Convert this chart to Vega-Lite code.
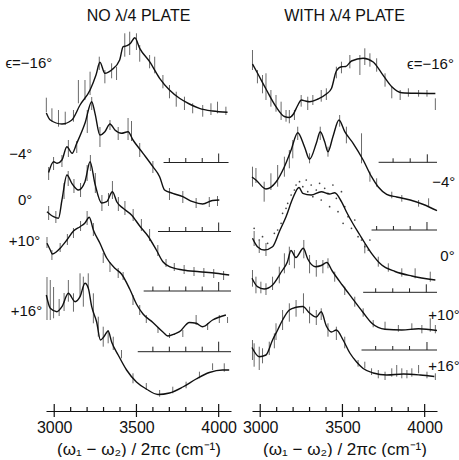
{
"$schema": "https://vega.github.io/schema/vega-lite/v6.json",
"background": "white",
"padding": {"left": 5, "top": 8, "right": 0, "bottom": 0},
"spacing": 21,
"bounds": "flush",
"config": {
  "view": {"stroke": null},
  "font": "Liberation Sans",
  "title": {"font": "Liberation Sans", "fontSize": 16, "fontWeight": "normal", "color": "#111", "offset": 2},
  "axisX": {"domainColor": "#111", "domainWidth": 1.2, "ticks": false, "grid": false, "labelFontSize": 16, "labelColor": "#111", "labelPadding": 8, "labelFlush": false, "titleFontSize": 17, "titleFontWeight": "normal", "titleColor": "#111", "titlePadding": 6, "labelFont": "Liberation Sans", "titleFont": "Liberation Sans"}
},
"datasets": {
  "curves": [
    {"c":"L1","x":2952,"y":298},{"c":"L1","x":2976,"y":291},{"c":"L1","x":3047,"y":287},{"c":"L1","x":3107,"y":291},{"c":"L1","x":3157,"y":306},{"c":"L1","x":3218,"y":321},{"c":"L1","x":3254,"y":336},{"c":"L1","x":3278,"y":348.7},{"c":"L1","x":3308,"y":337.7},{"c":"L1","x":3349,"y":341},{"c":"L1","x":3398,"y":351},{"c":"L1","x":3419,"y":364.3},{"c":"L1","x":3443,"y":365.3},{"c":"L1","x":3464,"y":367.7},{"c":"L1","x":3490,"y":373.3},{"c":"L1","x":3520,"y":362.7},{"c":"L1","x":3580,"y":349.3},{"c":"L1","x":3641,"y":332.7},{"c":"L1","x":3701,"y":321},{"c":"L1","x":3762,"y":312.7},{"c":"L1","x":3822,"y":307},{"c":"L1","x":3883,"y":302.7},{"c":"L1","x":3963,"y":300},{"c":"L1","x":4054,"y":298.7},
    {"c":"L2","x":2966,"y":238.5},{"c":"L2","x":2996,"y":249.3},{"c":"L2","x":3018,"y":247.7},{"c":"L2","x":3047,"y":251},{"c":"L2","x":3077,"y":264.3},{"c":"L2","x":3109,"y":257.7},{"c":"L2","x":3137,"y":267.7},{"c":"L2","x":3187,"y":287.7},{"c":"L2","x":3228,"y":309.3},{"c":"L2","x":3248,"y":297.7},{"c":"L2","x":3278,"y":276},{"c":"L2","x":3308,"y":279.3},{"c":"L2","x":3339,"y":287},{"c":"L2","x":3369,"y":281},{"c":"L2","x":3409,"y":277.7},{"c":"L2","x":3449,"y":279.3},{"c":"L2","x":3479,"y":271},{"c":"L2","x":3540,"y":257.7},{"c":"L2","x":3600,"y":244.3},{"c":"L2","x":3641,"y":234.3},{"c":"L2","x":3671,"y":221},{"c":"L2","x":3721,"y":217.7},{"c":"L2","x":3782,"y":214.3},{"c":"L2","x":3842,"y":209.3},{"c":"L2","x":3903,"y":207},{"c":"L2","x":3963,"y":210.5},{"c":"L2","x":4004,"y":211},
    {"c":"L3","x":2956,"y":199.3},{"c":"L3","x":2996,"y":194.3},{"c":"L3","x":3026,"y":192.7},{"c":"L3","x":3047,"y":211},{"c":"L3","x":3077,"y":236},{"c":"L3","x":3107,"y":227.7},{"c":"L3","x":3147,"y":221},{"c":"L3","x":3187,"y":229.3},{"c":"L3","x":3218,"y":249.3},{"c":"L3","x":3248,"y":227},{"c":"L3","x":3288,"y":208},{"c":"L3","x":3319,"y":209.3},{"c":"L3","x":3354,"y":219.3},{"c":"L3","x":3381,"y":209},{"c":"L3","x":3419,"y":202.7},{"c":"L3","x":3470,"y":196},{"c":"L3","x":3520,"y":185},{"c":"L3","x":3570,"y":175},{"c":"L3","x":3621,"y":161},{"c":"L3","x":3661,"y":149.3},{"c":"L3","x":3701,"y":144.3},{"c":"L3","x":3782,"y":141},{"c":"L3","x":3883,"y":139.3},{"c":"L3","x":3984,"y":137.7},{"c":"L3","x":4064,"y":136},
    {"c":"L4","x":2956,"y":167.7},{"c":"L4","x":2976,"y":161},{"c":"L4","x":2988,"y":157},{"c":"L4","x":3012,"y":159},{"c":"L4","x":3036,"y":162.7},{"c":"L4","x":3077,"y":171},{"c":"L4","x":3117,"y":180},{"c":"L4","x":3157,"y":184.3},{"c":"L4","x":3187,"y":188},{"c":"L4","x":3213,"y":193.7},{"c":"L4","x":3238,"y":181},{"c":"L4","x":3278,"y":167.7},{"c":"L4","x":3319,"y":153},{"c":"L4","x":3369,"y":142.7},{"c":"L4","x":3409,"y":137},{"c":"L4","x":3459,"y":122},{"c":"L4","x":3500,"y":107},{"c":"L4","x":3540,"y":97},{"c":"L4","x":3600,"y":88.5},{"c":"L4","x":3661,"y":79},{"c":"L4","x":3691,"y":75},{"c":"L4","x":3732,"y":77},{"c":"L4","x":3762,"y":79.3},{"c":"L4","x":3822,"y":88.5},{"c":"L4","x":3863,"y":87.7},{"c":"L4","x":3903,"y":84.3},{"c":"L4","x":3963,"y":91},{"c":"L4","x":4044,"y":96},
    {"c":"L5","x":2952,"y":116},{"c":"L5","x":2976,"y":102.7},{"c":"L5","x":3016,"y":99.3},{"c":"L5","x":3047,"y":104.3},{"c":"L5","x":3086,"y":117.7},{"c":"L5","x":3127,"y":109.3},{"c":"L5","x":3157,"y":114.3},{"c":"L5","x":3187,"y":127.7},{"c":"L5","x":3207,"y":123},{"c":"L5","x":3228,"y":104.3},{"c":"L5","x":3258,"y":89},{"c":"L5","x":3281,"y":71},{"c":"L5","x":3302,"y":74.3},{"c":"L5","x":3328,"y":80},{"c":"L5","x":3349,"y":69},{"c":"L5","x":3389,"y":56},{"c":"L5","x":3440,"y":41},{"c":"L5","x":3500,"y":29},{"c":"L5","x":3560,"y":22},{"c":"L5","x":3631,"y":16.5},{"c":"L5","x":3701,"y":18},{"c":"L5","x":3782,"y":24},{"c":"L5","x":3863,"y":32},{"c":"L5","x":3943,"y":38.5},{"c":"L5","x":4024,"y":41},{"c":"L5","x":4064,"y":41},
    {"c":"R1","x":2953,"y":347},{"c":"R1","x":2983,"y":338},{"c":"R1","x":3035,"y":322},{"c":"R1","x":3096,"y":304.3},{"c":"R1","x":3147,"y":294.5},{"c":"R1","x":3177,"y":293.5},{"c":"R1","x":3202,"y":297},{"c":"R1","x":3226,"y":305},{"c":"R1","x":3251,"y":311},{"c":"R1","x":3275,"y":310},{"c":"R1","x":3300,"y":309.3},{"c":"R1","x":3351,"y":312},{"c":"R1","x":3402,"y":317},{"c":"R1","x":3433,"y":322.5},{"c":"R1","x":3463,"y":340},{"c":"R1","x":3494,"y":344.3},{"c":"R1","x":3520,"y":344.5},{"c":"R1","x":3555,"y":350},{"c":"R1","x":3626,"y":352.7},{"c":"R1","x":3687,"y":349},{"c":"R1","x":3739,"y":337.7},{"c":"R1","x":3800,"y":324.3},{"c":"R1","x":3861,"y":318.3},{"c":"R1","x":3942,"y":317.7},{"c":"R1","x":4065,"y":317.5},
    {"c":"R2","x":2950,"y":234},{"c":"R2","x":2974,"y":231},{"c":"R2","x":3035,"y":222},{"c":"R2","x":3096,"y":229},{"c":"R2","x":3147,"y":244.3},{"c":"R2","x":3188,"y":261},{"c":"R2","x":3228,"y":278.3},{"c":"R2","x":3269,"y":264.3},{"c":"R2","x":3300,"y":251.7},{"c":"R2","x":3341,"y":267.7},{"c":"R2","x":3365,"y":279.3},{"c":"R2","x":3392,"y":269.3},{"c":"R2","x":3412,"y":259.3},{"c":"R2","x":3442,"y":274.3},{"c":"R2","x":3479,"y":291},{"c":"R2","x":3514,"y":279.3},{"c":"R2","x":3565,"y":267.7},{"c":"R2","x":3626,"y":251},{"c":"R2","x":3677,"y":234.3},{"c":"R2","x":3718,"y":224},{"c":"R2","x":3769,"y":216.7},{"c":"R2","x":3830,"y":214},{"c":"R2","x":3912,"y":211},{"c":"R2","x":3993,"y":206.5},{"c":"R2","x":4075,"y":200.3},
    {"c":"R3","x":2953,"y":172.7},{"c":"R3","x":2983,"y":164.3},{"c":"R3","x":3024,"y":161},{"c":"R3","x":3075,"y":164.3},{"c":"R3","x":3116,"y":179.3},{"c":"R3","x":3157,"y":194.3},{"c":"R3","x":3198,"y":212.7},{"c":"R3","x":3236,"y":223.5},{"c":"R3","x":3259,"y":217.7},{"c":"R3","x":3310,"y":216},{"c":"R3","x":3371,"y":219.3},{"c":"R3","x":3422,"y":217},{"c":"R3","x":3453,"y":218.3},{"c":"R3","x":3494,"y":209.3},{"c":"R3","x":3524,"y":199.3},{"c":"R3","x":3565,"y":187},{"c":"R3","x":3606,"y":176},{"c":"R3","x":3636,"y":168},{"c":"R3","x":3677,"y":157.7},{"c":"R3","x":3739,"y":146},{"c":"R3","x":3820,"y":139.5},{"c":"R3","x":3922,"y":135},{"c":"R3","x":4065,"y":131},
    {"c":"R4","x":2950,"y":132.7},{"c":"R4","x":2983,"y":124.3},{"c":"R4","x":3024,"y":122},{"c":"R4","x":3075,"y":126},{"c":"R4","x":3132,"y":140},{"c":"R4","x":3165,"y":149},{"c":"R4","x":3187,"y":160.5},{"c":"R4","x":3217,"y":153.5},{"c":"R4","x":3262,"y":162.7},{"c":"R4","x":3289,"y":152},{"c":"R4","x":3335,"y":144.3},{"c":"R4","x":3371,"y":145.5},{"c":"R4","x":3405,"y":148.5},{"c":"R4","x":3438,"y":140},{"c":"R4","x":3499,"y":126},{"c":"R4","x":3560,"y":112.7},{"c":"R4","x":3621,"y":99.5},{"c":"R4","x":3679,"y":87.7},{"c":"R4","x":3759,"y":81.7},{"c":"R4","x":3861,"y":81},{"c":"R4","x":3963,"y":82.3},{"c":"R4","x":4075,"y":80.5},
    {"c":"R5","x":2950,"y":63.5},{"c":"R5","x":2994,"y":54.3},{"c":"R5","x":3035,"y":56},{"c":"R5","x":3075,"y":71},{"c":"R5","x":3106,"y":81},{"c":"R5","x":3136,"y":91},{"c":"R5","x":3177,"y":101},{"c":"R5","x":3218,"y":103.7},{"c":"R5","x":3259,"y":104.5},{"c":"R5","x":3300,"y":98},{"c":"R5","x":3341,"y":94},{"c":"R5","x":3371,"y":99.3},{"c":"R5","x":3402,"y":85},{"c":"R5","x":3433,"y":79},{"c":"R5","x":3463,"y":81},{"c":"R5","x":3504,"y":71},{"c":"R5","x":3545,"y":58},{"c":"R5","x":3586,"y":49},{"c":"R5","x":3626,"y":42.5},{"c":"R5","x":3687,"y":38},{"c":"R5","x":3769,"y":36},{"c":"R5","x":3871,"y":37},{"c":"R5","x":3973,"y":36},{"c":"R5","x":4059,"y":34.5}
  ],
  "bars": [
    {"c":"L1","x":2952,"lo":298.7,"hi":313.3},{"c":"L1","x":2986,"lo":289.3,"hi":302.7},{"c":"L1","x":3026,"lo":284.3,"hi":301},{"c":"L1","x":3067,"lo":286,"hi":299.3},{"c":"L1","x":3117,"lo":289.3,"hi":301},{"c":"L1","x":3147,"lo":307.7,"hi":331},{"c":"L1","x":3187,"lo":311,"hi":331},{"c":"L1","x":3218,"lo":316,"hi":339.3},{"c":"L1","x":3274,"lo":341,"hi":354.3},{"c":"L1","x":3308,"lo":327.7,"hi":341},{"c":"L1","x":3349,"lo":332.7,"hi":347.7},{"c":"L1","x":3379,"lo":331,"hi":344.3},{"c":"L1","x":3429,"lo":354.3,"hi":377.7},{"c":"L1","x":3459,"lo":356,"hi":379.3},{"c":"L1","x":3500,"lo":361,"hi":377.7},{"c":"L1","x":3520,"lo":349.3,"hi":366},{"c":"L1","x":3580,"lo":342.7,"hi":356},{"c":"L1","x":3611,"lo":337.7,"hi":354.3},{"c":"L1","x":3661,"lo":322.7,"hi":336},{"c":"L1","x":3701,"lo":312.7,"hi":326},{"c":"L1","x":3742,"lo":304.3,"hi":319.3},{"c":"L1","x":3792,"lo":301,"hi":314.3},{"c":"L1","x":3842,"lo":297.7,"hi":307.7},{"c":"L1","x":3903,"lo":294.3,"hi":306},{"c":"L1","x":3953,"lo":296,"hi":307.7},{"c":"L1","x":3993,"lo":297.7,"hi":309.3},{"c":"L1","x":4044,"lo":296,"hi":304.3},
    {"c":"L2","x":2966,"lo":231,"hi":244},{"c":"L2","x":2996,"lo":241,"hi":254},{"c":"L2","x":3047,"lo":244,"hi":256},{"c":"L2","x":3086,"lo":254,"hi":271},{"c":"L2","x":3137,"lo":258,"hi":270},{"c":"L2","x":3201,"lo":278,"hi":301},{"c":"L2","x":3228,"lo":301,"hi":314},{"c":"L2","x":3278,"lo":264,"hi":284},{"c":"L2","x":3339,"lo":281,"hi":291},{"c":"L2","x":3389,"lo":271,"hi":284},{"c":"L2","x":3449,"lo":271,"hi":293},{"c":"L2","x":3470,"lo":270,"hi":290},{"c":"L2","x":3520,"lo":254,"hi":268},{"c":"L2","x":3600,"lo":238,"hi":250},{"c":"L2","x":3701,"lo":211,"hi":223},{"c":"L2","x":3782,"lo":208,"hi":220},{"c":"L2","x":3863,"lo":203,"hi":213},{"c":"L2","x":3943,"lo":204,"hi":214},{"c":"L2","x":3993,"lo":205,"hi":215},
    {"c":"L3","x":2966,"lo":191,"hi":205},{"c":"L3","x":3010,"lo":188,"hi":200},{"c":"L3","x":3060,"lo":212,"hi":228},{"c":"L3","x":3085,"lo":225,"hi":240},{"c":"L3","x":3120,"lo":218,"hi":232},{"c":"L3","x":3160,"lo":214,"hi":228},{"c":"L3","x":3200,"lo":230,"hi":246},{"c":"L3","x":3220,"lo":240,"hi":256},{"c":"L3","x":3250,"lo":218,"hi":238},{"c":"L3","x":3290,"lo":200,"hi":216},{"c":"L3","x":3330,"lo":205,"hi":218},{"c":"L3","x":3354,"lo":212,"hi":230},{"c":"L3","x":3390,"lo":200,"hi":214},{"c":"L3","x":3430,"lo":196,"hi":210},{"c":"L3","x":3480,"lo":190,"hi":202},{"c":"L3","x":3530,"lo":180,"hi":192},{"c":"L3","x":3580,"lo":170,"hi":182},{"c":"L3","x":3630,"lo":155,"hi":166},{"c":"L3","x":3680,"lo":144,"hi":152},{"c":"L3","x":3730,"lo":140,"hi":148},{"c":"L3","x":3790,"lo":137,"hi":146},{"c":"L3","x":3850,"lo":135,"hi":144},{"c":"L3","x":3910,"lo":134,"hi":143},{"c":"L3","x":3970,"lo":133,"hi":142},{"c":"L3","x":4030,"lo":131,"hi":140},
    {"c":"L4","x":2956,"lo":163,"hi":174},{"c":"L4","x":2986,"lo":151,"hi":161},{"c":"L4","x":3036,"lo":159,"hi":168},{"c":"L4","x":3080,"lo":166,"hi":177},{"c":"L4","x":3117,"lo":173,"hi":183},{"c":"L4","x":3160,"lo":180,"hi":190},{"c":"L4","x":3200,"lo":186,"hi":200},{"c":"L4","x":3238,"lo":175,"hi":188},{"c":"L4","x":3298,"lo":148,"hi":158},{"c":"L4","x":3339,"lo":139,"hi":149},{"c":"L4","x":3389,"lo":133,"hi":143},{"c":"L4","x":3419,"lo":131,"hi":139},{"c":"L4","x":3479,"lo":106,"hi":116},{"c":"L4","x":3520,"lo":96,"hi":106},{"c":"L4","x":3560,"lo":88,"hi":96},{"c":"L4","x":3631,"lo":78,"hi":84},{"c":"L4","x":3701,"lo":73,"hi":78},{"c":"L4","x":3782,"lo":74,"hi":81},{"c":"L4","x":3863,"lo":86,"hi":96},{"c":"L4","x":3933,"lo":81,"hi":88},{"c":"L4","x":4004,"lo":88,"hi":96},{"c":"L4","x":4054,"lo":88,"hi":94},
    {"c":"L5","x":2956,"lo":91,"hi":134},{"c":"L5","x":2976,"lo":91,"hi":131},{"c":"L5","x":2996,"lo":92.7,"hi":124},{"c":"L5","x":3030,"lo":95,"hi":112},{"c":"L5","x":3060,"lo":100,"hi":118},{"c":"L5","x":3086,"lo":109.3,"hi":131},{"c":"L5","x":3117,"lo":99.3,"hi":117.7},{"c":"L5","x":3157,"lo":114.3,"hi":137.7},{"c":"L5","x":3177,"lo":104.3,"hi":134.3},{"c":"L5","x":3207,"lo":122.7,"hi":137.7},{"c":"L5","x":3238,"lo":87.7,"hi":117.7},{"c":"L5","x":3268,"lo":74.3,"hi":94.3},{"c":"L5","x":3298,"lo":64.3,"hi":84.3},{"c":"L5","x":3328,"lo":67.7,"hi":81},{"c":"L5","x":3359,"lo":61,"hi":74.3},{"c":"L5","x":3409,"lo":52.7,"hi":61},{"c":"L5","x":3479,"lo":27.7,"hi":37.7},{"c":"L5","x":3560,"lo":21,"hi":28},{"c":"L5","x":3641,"lo":14.3,"hi":21},{"c":"L5","x":3721,"lo":17.7,"hi":24.3},{"c":"L5","x":3802,"lo":22.7,"hi":29.3},{"c":"L5","x":3883,"lo":32.7,"hi":39.3},{"c":"L5","x":3963,"lo":41,"hi":47.7},{"c":"L5","x":4034,"lo":39.3,"hi":47.7},
    {"c":"R1","x":2953,"lo":341,"hi":361},{"c":"R1","x":2983,"lo":327.7,"hi":341},{"c":"R1","x":3014,"lo":317.7,"hi":336},{"c":"R1","x":3035,"lo":311,"hi":337.7},{"c":"R1","x":3065,"lo":304.3,"hi":321},{"c":"R1","x":3096,"lo":299.3,"hi":316},{"c":"R1","x":3127,"lo":291,"hi":309.3},{"c":"R1","x":3157,"lo":289.3,"hi":301},{"c":"R1","x":3177,"lo":287.7,"hi":301},{"c":"R1","x":3208,"lo":291,"hi":301},{"c":"R1","x":3249,"lo":304.3,"hi":316},{"c":"R1","x":3289,"lo":301,"hi":314.3},{"c":"R1","x":3320,"lo":306,"hi":316},{"c":"R1","x":3371,"lo":309.3,"hi":321},{"c":"R1","x":3402,"lo":311,"hi":322.7},{"c":"R1","x":3463,"lo":332.7,"hi":344.3},{"c":"R1","x":3494,"lo":337.7,"hi":349.3},{"c":"R1","x":3545,"lo":342.7,"hi":356},{"c":"R1","x":3606,"lo":336,"hi":356},{"c":"R1","x":3636,"lo":346,"hi":362.7},{"c":"R1","x":3667,"lo":344.3,"hi":357.7},{"c":"R1","x":3708,"lo":339.3,"hi":352.7},{"c":"R1","x":3759,"lo":324.3,"hi":337.7},{"c":"R1","x":3800,"lo":312.7,"hi":324.3},{"c":"R1","x":3851,"lo":311,"hi":321},{"c":"R1","x":3901,"lo":314.3,"hi":322.7},{"c":"R1","x":3963,"lo":314.3,"hi":321},{"c":"R1","x":4014,"lo":314.3,"hi":321},{"c":"R1","x":4065,"lo":301,"hi":312.7},
    {"c":"R2","x":2953,"lo":224.3,"hi":244.3},{"c":"R2","x":2974,"lo":228,"hi":243},{"c":"R2","x":3024,"lo":209.3,"hi":229.3},{"c":"R2","x":3065,"lo":221,"hi":237.7},{"c":"R2","x":3106,"lo":224.3,"hi":246},{"c":"R2","x":3147,"lo":234.3,"hi":254.3},{"c":"R2","x":3177,"lo":242.7,"hi":261},{"c":"R2","x":3198,"lo":252.7,"hi":271},{"c":"R2","x":3228,"lo":271,"hi":284.3},{"c":"R2","x":3300,"lo":247.7,"hi":257.7},{"c":"R2","x":3365,"lo":271,"hi":284.3},{"c":"R2","x":3412,"lo":254.3,"hi":264.3},{"c":"R2","x":3483,"lo":284.3,"hi":296},{"c":"R2","x":3524,"lo":267.7,"hi":284.3},{"c":"R2","x":3616,"lo":247.7,"hi":277.7},{"c":"R2","x":3667,"lo":229.3,"hi":239.3},{"c":"R2","x":3708,"lo":224.3,"hi":232.7},{"c":"R2","x":3800,"lo":212.7,"hi":219.3},{"c":"R2","x":3861,"lo":209.3,"hi":216},{"c":"R2","x":3963,"lo":204.3,"hi":211},{"c":"R2","x":4024,"lo":204.3,"hi":212.7},
    {"c":"R3","x":2963,"lo":165,"hi":180},{"c":"R3","x":2994,"lo":158,"hi":170},{"c":"R3","x":3035,"lo":155,"hi":168},{"c":"R3","x":3636,"lo":157.7,"hi":167.7},{"c":"R3","x":3718,"lo":144.3,"hi":154.3},{"c":"R3","x":3779,"lo":139.3,"hi":147.7},{"c":"R3","x":3861,"lo":134.3,"hi":142.7},{"c":"R3","x":3942,"lo":132.7,"hi":142.7},{"c":"R3","x":4034,"lo":129.3,"hi":139.3},
    {"c":"R4","x":2953,"lo":124.3,"hi":141},{"c":"R4","x":2974,"lo":117.7,"hi":134.3},{"c":"R4","x":3004,"lo":117.7,"hi":129.3},{"c":"R4","x":3035,"lo":116,"hi":127.7},{"c":"R4","x":3075,"lo":121,"hi":134.3},{"c":"R4","x":3116,"lo":127.7,"hi":144.3},{"c":"R4","x":3147,"lo":137.7,"hi":157.7},{"c":"R4","x":3177,"lo":146,"hi":164.3},{"c":"R4","x":3208,"lo":142.7,"hi":161},{"c":"R4","x":3265,"lo":152.7,"hi":171},{"c":"R4","x":3300,"lo":137.7,"hi":156},{"c":"R4","x":3341,"lo":134.3,"hi":151},{"c":"R4","x":3381,"lo":137.7,"hi":151},{"c":"R4","x":3412,"lo":142.7,"hi":152.7},{"c":"R4","x":3453,"lo":129.3,"hi":139.3},{"c":"R4","x":3514,"lo":116,"hi":124.3},{"c":"R4","x":3575,"lo":104.3,"hi":114.3},{"c":"R4","x":3626,"lo":94.3,"hi":102.7},{"c":"R4","x":3687,"lo":83.7,"hi":91},{"c":"R4","x":3759,"lo":81,"hi":89.3},{"c":"R4","x":3840,"lo":79.3,"hi":86},{"c":"R4","x":3922,"lo":81,"hi":87.7},{"c":"R4","x":3983,"lo":77.7,"hi":86},{"c":"R4","x":4034,"lo":79.3,"hi":92.7},{"c":"R4","x":4065,"lo":77.7,"hi":86},
    {"c":"R5","x":2953,"lo":51,"hi":71},{"c":"R5","x":2963,"lo":44.3,"hi":67.7},{"c":"R5","x":2994,"lo":41,"hi":64.3},{"c":"R5","x":3014,"lo":47.7,"hi":62.7},{"c":"R5","x":3055,"lo":56,"hi":69.3},{"c":"R5","x":3086,"lo":62.7,"hi":77.7},{"c":"R5","x":3096,"lo":71,"hi":87.7},{"c":"R5","x":3136,"lo":81,"hi":101},{"c":"R5","x":3177,"lo":89.3,"hi":107.7},{"c":"R5","x":3218,"lo":94.3,"hi":111},{"c":"R5","x":3263,"lo":97.7,"hi":117.7},{"c":"R5","x":3300,"lo":87.7,"hi":104.3},{"c":"R5","x":3341,"lo":86,"hi":101},{"c":"R5","x":3371,"lo":91,"hi":102.7},{"c":"R5","x":3412,"lo":74.3,"hi":87.7},{"c":"R5","x":3463,"lo":71,"hi":84.3},{"c":"R5","x":3514,"lo":62.7,"hi":74.3},{"c":"R5","x":3595,"lo":44.3,"hi":51},{"c":"R5","x":3636,"lo":42.7,"hi":49.3},{"c":"R5","x":3677,"lo":36,"hi":42.7},{"c":"R5","x":3718,"lo":32.7,"hi":41},{"c":"R5","x":3759,"lo":31,"hi":39.3},{"c":"R5","x":3800,"lo":34.3,"hi":42.7},{"c":"R5","x":3830,"lo":34.3,"hi":46},{"c":"R5","x":3861,"lo":32.7,"hi":42.7},{"c":"R5","x":3892,"lo":32.7,"hi":41},{"c":"R5","x":3922,"lo":34.3,"hi":42.7},{"c":"R5","x":3963,"lo":37.7,"hi":46},{"c":"R5","x":4014,"lo":32.7,"hi":39.3},{"c":"R5","x":4065,"lo":31,"hi":37.7}
  ],
  "dots": [
    {"c":"R3","x":2963,"y":182.7},{"c":"R3","x":2994,"y":171},{"c":"R3","x":3014,"y":174.3},{"c":"R3","x":3045,"y":167.7},{"c":"R3","x":3086,"y":177.7},{"c":"R3","x":3106,"y":181},{"c":"R3","x":3127,"y":187.7},{"c":"R3","x":3136,"y":197.7},{"c":"R3","x":3157,"y":202.7},{"c":"R3","x":3167,"y":207.7},{"c":"R3","x":3188,"y":216},{"c":"R3","x":3208,"y":221},{"c":"R3","x":3218,"y":226},{"c":"R3","x":3239,"y":229.3},{"c":"R3","x":3259,"y":224.3},{"c":"R3","x":3280,"y":231},{"c":"R3","x":3289,"y":219.3},{"c":"R3","x":3310,"y":226},{"c":"R3","x":3320,"y":214.3},{"c":"R3","x":3341,"y":221},{"c":"R3","x":3361,"y":227.7},{"c":"R3","x":3371,"y":211},{"c":"R3","x":3392,"y":222.7},{"c":"R3","x":3412,"y":217.7},{"c":"R3","x":3422,"y":204.3},{"c":"R3","x":3442,"y":226},{"c":"R3","x":3463,"y":212.7},{"c":"R3","x":3473,"y":199.3},{"c":"R3","x":3494,"y":219.3},{"c":"R3","x":3504,"y":187.7},{"c":"R3","x":3514,"y":204.3},{"c":"R3","x":3534,"y":194.3},{"c":"R3","x":3555,"y":182.7},{"c":"R3","x":3575,"y":191},{"c":"R3","x":3595,"y":174.3},{"c":"R3","x":3616,"y":171},{"c":"R3","x":3636,"y":164.3},{"c":"R3","x":3667,"y":171},{"c":"R3","x":3657,"y":161}
  ],
  "rulers": [
    {"c":"L","x":3665,"x2":4060,"y":248.5},{"c":"L","x":3631,"x2":4075,"y":179.5},{"c":"L","x":3544,"x2":4075,"y":120},{"c":"L","x":3508,"x2":4075,"y":59.3},
    {"c":"R","x":3720,"x2":4075,"y":248.7},{"c":"R","x":3677,"x2":4075,"y":181},{"c":"R","x":3626,"x2":4075,"y":118.7},{"c":"R","x":3616,"x2":4075,"y":61}
  ],
  "rticks": [
    {"c":"L","x":3700,"y":248.5,"y2":253},{"c":"L","x":3800,"y":248.5,"y2":253},{"c":"L","x":3900,"y":248.5,"y2":253},{"c":"L","x":4000,"y":248.5,"y2":257.5},
    {"c":"L","x":3700,"y":179.5,"y2":184},{"c":"L","x":3800,"y":179.5,"y2":184},{"c":"L","x":3900,"y":179.5,"y2":184},{"c":"L","x":4000,"y":179.5,"y2":188.5},
    {"c":"L","x":3600,"y":120,"y2":124.5},{"c":"L","x":3700,"y":120,"y2":124.5},{"c":"L","x":3800,"y":120,"y2":124.5},{"c":"L","x":3900,"y":120,"y2":124.5},{"c":"L","x":4000,"y":120,"y2":129},
    {"c":"L","x":3600,"y":59.3,"y2":64.3},{"c":"L","x":3700,"y":59.3,"y2":64.3},{"c":"L","x":3800,"y":59.3,"y2":64.3},{"c":"L","x":3900,"y":59.3,"y2":64.3},{"c":"L","x":4000,"y":59.3,"y2":69.3},
    {"c":"R","x":3808,"y":248.7,"y2":252.7},{"c":"R","x":3912,"y":248.7,"y2":252.7},{"c":"R","x":4016,"y":248.7,"y2":256.7},
    {"c":"R","x":3708,"y":181,"y2":185},{"c":"R","x":3810,"y":181,"y2":185},{"c":"R","x":3912,"y":181,"y2":185},{"c":"R","x":4014,"y":181,"y2":189},
    {"c":"R","x":3702,"y":118.7,"y2":122.7},{"c":"R","x":3806,"y":118.7,"y2":122.7},{"c":"R","x":3908,"y":118.7,"y2":122.7},{"c":"R","x":4010,"y":118.7,"y2":126.7},
    {"c":"R","x":3702,"y":61,"y2":65},{"c":"R","x":3806,"y":61,"y2":65},{"c":"R","x":3908,"y":61,"y2":65},{"c":"R","x":4014,"y":61,"y2":69}
  ],
  "axticks": [
    {"x":3000,"y":-6,"y2":7},{"x":3100,"y":0,"y2":4},{"x":3200,"y":0,"y2":4},{"x":3300,"y":0,"y2":4},{"x":3400,"y":0,"y2":4},{"x":3500,"y":-6,"y2":7},{"x":3600,"y":0,"y2":4},{"x":3700,"y":0,"y2":4},{"x":3800,"y":0,"y2":4},{"x":3900,"y":0,"y2":4},{"x":4000,"y":-6,"y2":7}
  ],
  "labels": [
    {"c":"L","x":2988,"y":348,"t":"ϵ=−16°"},{"c":"L","x":2867,"y":257,"t":"−4°"},{"c":"L","x":2867,"y":211,"t":"0°"},{"c":"L","x":2915,"y":170,"t":"+10°"},{"c":"L","x":2927,"y":100,"t":"+16°"},
    {"c":"R","x":3893,"y":347,"t":"ϵ=−16°"},{"c":"R","x":4046,"y":229,"t":"−4°"},{"c":"R","x":4095,"y":155,"t":"0°"},{"c":"R","x":4022,"y":96,"t":"+10°"},{"c":"R","x":4022,"y":45,"t":"+16°"}
  ]
},
"hconcat": [
  {
    "width": 185, "height": 385,
    "title": {"text": "NO λ/4 PLATE"},
    "layer": [
      {"data": {"name": "bars"}, "transform": [{"filter": "datum.c[0] === 'L'"}],
       "mark": {"type": "rule", "color": "#444", "strokeWidth": 0.8},
       "encoding": {
         "x": {"field": "x", "type": "quantitative", "scale": {"domain": [2950, 4075], "nice": false, "zero": false}, "axis": {"values": [3000, 3500, 4000], "format": "d", "title": "(ω₁ − ω₂) / 2πc (cm⁻¹)"}},
         "y": {"field": "lo", "type": "quantitative", "scale": {"domain": [0, 385], "nice": false}, "axis": null},
         "y2": {"field": "hi"}}},
      {"data": {"name": "curves"}, "transform": [{"filter": "datum.c[0] === 'L'"}],
       "mark": {"type": "line", "color": "#111", "strokeWidth": 1.4, "interpolate": "monotone"},
       "encoding": {
         "x": {"field": "x", "type": "quantitative", "scale": {"domain": [2950, 4075], "nice": false, "zero": false}, "axis": {"values": [3000, 3500, 4000], "format": "d", "title": "(ω₁ − ω₂) / 2πc (cm⁻¹)"}},
         "y": {"field": "y", "type": "quantitative", "scale": {"domain": [0, 385], "nice": false}, "axis": null},
         "detail": {"field": "c"}}},
      {"data": {"name": "rulers"}, "transform": [{"filter": "datum.c === 'L'"}],
       "mark": {"type": "rule", "color": "#222", "strokeWidth": 1},
       "encoding": {
         "x": {"field": "x", "type": "quantitative", "scale": {"domain": [2950, 4075], "nice": false, "zero": false}, "axis": {"values": [3000, 3500, 4000], "format": "d", "title": "(ω₁ − ω₂) / 2πc (cm⁻¹)"}},
         "x2": {"field": "x2"},
         "y": {"field": "y", "type": "quantitative", "scale": {"domain": [0, 385], "nice": false}, "axis": null}}},
      {"data": {"name": "rticks"}, "transform": [{"filter": "datum.c === 'L'"}],
       "mark": {"type": "rule", "color": "#222", "strokeWidth": 1},
       "encoding": {
         "x": {"field": "x", "type": "quantitative", "scale": {"domain": [2950, 4075], "nice": false, "zero": false}, "axis": {"values": [3000, 3500, 4000], "format": "d", "title": "(ω₁ − ω₂) / 2πc (cm⁻¹)"}},
         "y": {"field": "y", "type": "quantitative", "scale": {"domain": [0, 385], "nice": false}, "axis": null},
         "y2": {"field": "y2"}}},
      {"data": {"name": "axticks"},
       "mark": {"type": "rule", "color": "#111", "strokeWidth": 1.2},
       "encoding": {
         "x": {"field": "x", "type": "quantitative", "scale": {"domain": [2950, 4075], "nice": false, "zero": false}, "axis": {"values": [3000, 3500, 4000], "format": "d", "title": "(ω₁ − ω₂) / 2πc (cm⁻¹)"}},
         "y": {"field": "y", "type": "quantitative", "scale": {"domain": [0, 385], "nice": false}, "axis": null},
         "y2": {"field": "y2"}}},
      {"data": {"name": "labels"}, "transform": [{"filter": "datum.c === 'L'"}],
       "mark": {"type": "text", "align": "right", "baseline": "middle", "fontSize": 15, "color": "#111", "font": "Liberation Sans"},
       "encoding": {
         "x": {"field": "x", "type": "quantitative", "scale": {"domain": [2950, 4075], "nice": false, "zero": false}, "axis": {"values": [3000, 3500, 4000], "format": "d", "title": "(ω₁ − ω₂) / 2πc (cm⁻¹)"}},
         "y": {"field": "y", "type": "quantitative", "scale": {"domain": [0, 385], "nice": false}, "axis": null},
         "text": {"field": "t"}}}
    ]
  },
  {
    "width": 185, "height": 385,
    "title": {"text": "WITH λ/4 PLATE"},
    "layer": [
      {"data": {"name": "bars"}, "transform": [{"filter": "datum.c[0] === 'R'"}],
       "mark": {"type": "rule", "color": "#444", "strokeWidth": 0.8},
       "encoding": {
         "x": {"field": "x", "type": "quantitative", "scale": {"domain": [2950, 4075], "nice": false, "zero": false}, "axis": {"values": [3000, 3500, 4000], "format": "d", "title": "(ω₁ − ω₂) / 2πc (cm⁻¹)"}},
         "y": {"field": "lo", "type": "quantitative", "scale": {"domain": [0, 385], "nice": false}, "axis": null},
         "y2": {"field": "hi"}}},
      {"data": {"name": "dots"},
       "mark": {"type": "point", "filled": true, "color": "#444", "size": 3, "opacity": 1},
       "encoding": {
         "x": {"field": "x", "type": "quantitative", "scale": {"domain": [2950, 4075], "nice": false, "zero": false}, "axis": {"values": [3000, 3500, 4000], "format": "d", "title": "(ω₁ − ω₂) / 2πc (cm⁻¹)"}},
         "y": {"field": "y", "type": "quantitative", "scale": {"domain": [0, 385], "nice": false}, "axis": null}}},
      {"data": {"name": "curves"}, "transform": [{"filter": "datum.c[0] === 'R'"}],
       "mark": {"type": "line", "color": "#111", "strokeWidth": 1.4, "interpolate": "monotone"},
       "encoding": {
         "x": {"field": "x", "type": "quantitative", "scale": {"domain": [2950, 4075], "nice": false, "zero": false}, "axis": {"values": [3000, 3500, 4000], "format": "d", "title": "(ω₁ − ω₂) / 2πc (cm⁻¹)"}},
         "y": {"field": "y", "type": "quantitative", "scale": {"domain": [0, 385], "nice": false}, "axis": null},
         "detail": {"field": "c"}}},
      {"data": {"name": "rulers"}, "transform": [{"filter": "datum.c === 'R'"}],
       "mark": {"type": "rule", "color": "#222", "strokeWidth": 1},
       "encoding": {
         "x": {"field": "x", "type": "quantitative", "scale": {"domain": [2950, 4075], "nice": false, "zero": false}, "axis": {"values": [3000, 3500, 4000], "format": "d", "title": "(ω₁ − ω₂) / 2πc (cm⁻¹)"}},
         "x2": {"field": "x2"},
         "y": {"field": "y", "type": "quantitative", "scale": {"domain": [0, 385], "nice": false}, "axis": null}}},
      {"data": {"name": "rticks"}, "transform": [{"filter": "datum.c === 'R'"}],
       "mark": {"type": "rule", "color": "#222", "strokeWidth": 1},
       "encoding": {
         "x": {"field": "x", "type": "quantitative", "scale": {"domain": [2950, 4075], "nice": false, "zero": false}, "axis": {"values": [3000, 3500, 4000], "format": "d", "title": "(ω₁ − ω₂) / 2πc (cm⁻¹)"}},
         "y": {"field": "y", "type": "quantitative", "scale": {"domain": [0, 385], "nice": false}, "axis": null},
         "y2": {"field": "y2"}}},
      {"data": {"name": "axticks"},
       "mark": {"type": "rule", "color": "#111", "strokeWidth": 1.2},
       "encoding": {
         "x": {"field": "x", "type": "quantitative", "scale": {"domain": [2950, 4075], "nice": false, "zero": false}, "axis": {"values": [3000, 3500, 4000], "format": "d", "title": "(ω₁ − ω₂) / 2πc (cm⁻¹)"}},
         "y": {"field": "y", "type": "quantitative", "scale": {"domain": [0, 385], "nice": false}, "axis": null},
         "y2": {"field": "y2"}}},
      {"data": {"name": "labels"}, "transform": [{"filter": "datum.c === 'R'"}],
       "mark": {"type": "text", "align": "left", "baseline": "middle", "fontSize": 15, "color": "#111", "font": "Liberation Sans"},
       "encoding": {
         "x": {"field": "x", "type": "quantitative", "scale": {"domain": [2950, 4075], "nice": false, "zero": false}, "axis": {"values": [3000, 3500, 4000], "format": "d", "title": "(ω₁ − ω₂) / 2πc (cm⁻¹)"}},
         "y": {"field": "y", "type": "quantitative", "scale": {"domain": [0, 385], "nice": false}, "axis": null},
         "text": {"field": "t"}}}
    ]
  }
]
}
